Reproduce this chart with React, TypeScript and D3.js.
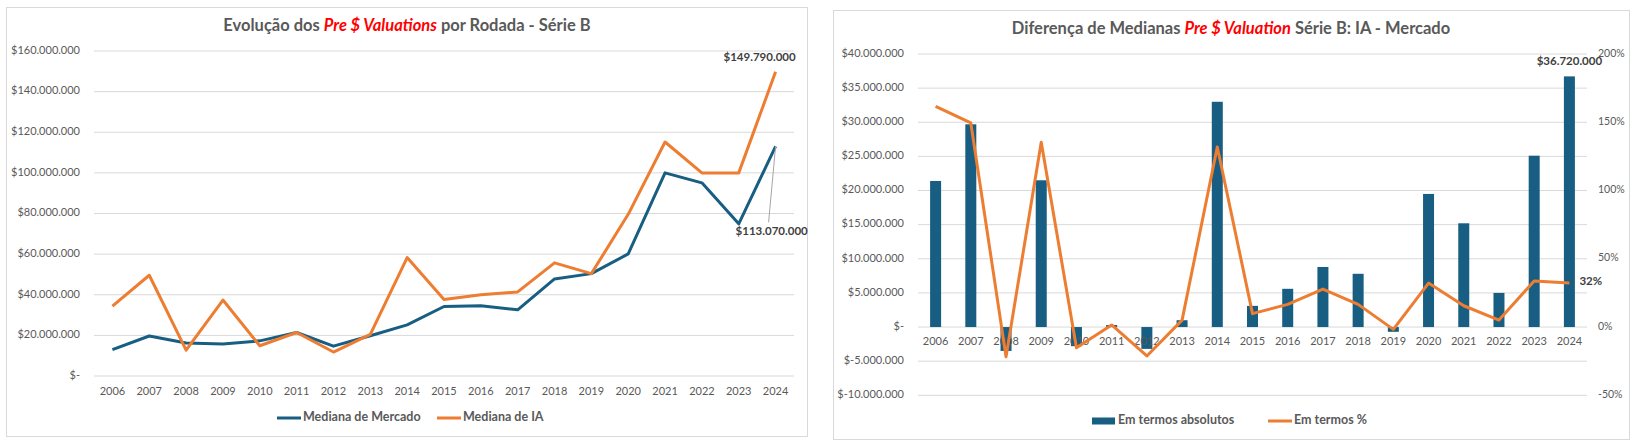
import React, { useEffect, useRef } from 'react';
import * as d3 from 'd3';

// Rounds per year, values in US$ millions
const years = ['2006', '2007', '2008', '2009', '2010', '2011', '2012', '2013', '2014', '2015', '2016', '2017', '2018', '2019', '2020', '2021', '2022', '2023', '2024'];
const marketMedian = [13, 19.7, 16.2, 15.7, 17.3, 21.4, 14.7, 19.8, 25.2, 34.2, 34.6, 32.6, 47.8, 50.4, 60.1, 100, 95.1, 74.9, 113.07];
const aiMedian = [34.4, 49.6, 12.7, 37.4, 14.9, 21.4, 11.8, 20.5, 58.3, 37.7, 40, 41.4, 55.7, 50.4, 79.6, 115.2, 100, 100, 149.79];

// Difference IA - Mercado
const diffAbsolute = [21.4, 29.7, -3.5, 21.5, -2.8, 0.3, -3.2, 1.0, 33.0, 3.1, 5.6, 8.8, 7.8, -0.7, 19.5, 15.2, 5.0, 25.1, 36.72];
const diffPercent = [161.7, 149.5, -21.7, 135.3, -15.1, 1.5, -21.2, 5.1, 131.9, 9.8, 16.6, 27.8, 16.6, -1.7, 32.2, 15.6, 5.1, 33.7, 32.3];

const leftTicks = [0, 20, 40, 60, 80, 100, 120, 140, 160];
const rightMoneyTicks = [-10, -5, 0, 5, 10, 15, 20, 25, 30, 35, 40];
const rightPctTicks = [-50, 0, 50, 100, 150, 200];

const WIDTH = 1637;
const HEIGHT = 446;
const FONT = 'Lato, "Open Sans", sans-serif';
const GRAY = '#595959';
const GRID = '#d9d9d9';
const BLUE = '#175e82';
const ORANGE = '#ed7d31';
const RED = '#ff0000';
const TICK_SIZE = '11px';

const money = (m: number) => {
  if (m === 0) return '$-';
  const s = d3.format(',')(Math.round(Math.abs(m) * 1e6)).replace(/,/g, '.');
  return (m < 0 ? '$-' : '$') + s;
};

type G = d3.Selection<SVGGElement, unknown, null, undefined>;

function title(g: G, cx: number, cy: number, before: string, red: string, after: string) {
  const t = g.append('text')
    .attr('x', cx).attr('y', cy)
    .attr('text-anchor', 'middle')
    .attr('dominant-baseline', 'middle')
    .style('font-family', FONT)
    .style('font-size', '16.5px')
    .style('font-weight', 700)
    .style('fill', GRAY);
  t.append('tspan').text(before);
  t.append('tspan').style('fill', RED).style('font-style', 'italic').text(red);
  t.append('tspan').text(after);
}

function legendItem(g: G, x: number, y: number, label: string, color: string, kind: 'line' | 'rect') {
  if (kind === 'line') {
    g.append('line')
      .attr('x1', x).attr('x2', x + 24).attr('y1', y).attr('y2', y)
      .attr('stroke', color).attr('stroke-width', 3);
  } else {
    g.append('rect')
      .attr('x', x).attr('y', y - 3.5).attr('width', 23).attr('height', 7)
      .attr('fill', color);
  }
  g.append('text')
    .attr('x', x + 26).attr('y', y)
    .attr('dominant-baseline', 'middle')
    .style('font-family', FONT)
    .style('font-size', '12.5px')
    .style('font-weight', 700)
    .style('fill', GRAY)
    .text(label);
}

function drawValuations(g: G) {
  g.append('rect')
    .attr('x', 6.5).attr('y', 7.5).attr('width', 801).attr('height', 429)
    .attr('fill', '#fff').attr('stroke', GRID);

  title(g, 407, 27, 'Evolução dos ', 'Pre $ Valuations', ' por Rodada - Série B');

  const x = d3.scaleBand().domain(years).range([94, 794]);
  const cx = (d: string) => (x(d) || 0) + x.bandwidth() / 2;
  const y = d3.scaleLinear().domain([0, 160]).range([376, 51]);

  g.selectAll('.grid-l')
    .data(leftTicks)
    .enter()
    .append('line')
    .attr('x1', 94).attr('x2', 794)
    .attr('y1', d => y(d)).attr('y2', d => y(d))
    .attr('stroke', GRID).attr('stroke-width', 1);

  g.selectAll('.ylab-l')
    .data(leftTicks)
    .enter()
    .append('text')
    .attr('x', 80).attr('y', d => y(d))
    .attr('text-anchor', 'end')
    .attr('dominant-baseline', 'middle')
    .style('font-family', FONT).style('font-size', TICK_SIZE).style('fill', GRAY)
    .text(d => money(d));

  g.selectAll('.xlab-l')
    .data(years)
    .enter()
    .append('text')
    .attr('x', d => cx(d)).attr('y', 392)
    .attr('text-anchor', 'middle')
    .attr('dominant-baseline', 'middle')
    .style('font-family', FONT).style('font-size', TICK_SIZE).style('fill', GRAY)
    .text(d => d);

  const line = d3.line<number>()
    .x((_, i) => cx(years[i]))
    .y(d => y(d));

  g.append('path').datum(marketMedian)
    .attr('d', line).attr('fill', 'none')
    .attr('stroke', BLUE).attr('stroke-width', 3).attr('stroke-linejoin', 'round');
  g.append('path').datum(aiMedian)
    .attr('d', line).attr('fill', 'none')
    .attr('stroke', ORANGE).attr('stroke-width', 3).attr('stroke-linejoin', 'round');

  // labels on the last round
  const last = years.length - 1;
  const lx = cx(years[last]);
  g.append('text')
    .attr('x', lx - 16).attr('y', y(aiMedian[last]) - 14)
    .attr('text-anchor', 'middle').attr('dominant-baseline', 'middle')
    .style('font-family', FONT).style('font-size', '11.5px').style('font-weight', 700).style('fill', '#404040')
    .text(money(aiMedian[last]));

  const my = y(marketMedian[last]);
  g.append('line')
    .attr('x1', lx).attr('y1', my)
    .attr('x2', lx - 7).attr('y2', my + 76)
    .attr('stroke', '#a6a6a6').attr('stroke-width', 1);
  g.append('text')
    .attr('x', lx - 40).attr('y', my + 86)
    .attr('dominant-baseline', 'middle')
    .style('font-family', FONT).style('font-size', '11.5px').style('font-weight', 700).style('fill', '#404040')
    .text(money(marketMedian[last]));

  legendItem(g, 277, 418, 'Mediana de Mercado', BLUE, 'line');
  legendItem(g, 437, 418, 'Mediana de IA', ORANGE, 'line');
}

function drawDifference(g: G) {
  g.append('rect')
    .attr('x', 833.5).attr('y', 10.5).attr('width', 796).attr('height', 429)
    .attr('fill', '#fff').attr('stroke', GRID);

  title(g, 1231, 30, 'Diferença de Medianas ', 'Pre $ Valuation', ' Série B: IA - Mercado');

  const x = d3.scaleBand().domain(years).range([918, 1587]);
  const cx = (d: string) => (x(d) || 0) + x.bandwidth() / 2;
  const yL = d3.scaleLinear().domain([-10, 40]).range([395.3, 54]);
  const yR = d3.scaleLinear().domain([-50, 200]).range([395.3, 54]);

  g.selectAll('.grid-r')
    .data(rightMoneyTicks)
    .enter()
    .append('line')
    .attr('x1', 918).attr('x2', 1587)
    .attr('y1', d => yL(d)).attr('y2', d => yL(d))
    .attr('stroke', GRID).attr('stroke-width', 1);

  g.selectAll('.ylab-r')
    .data(rightMoneyTicks)
    .enter()
    .append('text')
    .attr('x', 904).attr('y', d => yL(d))
    .attr('text-anchor', 'end')
    .attr('dominant-baseline', 'middle')
    .style('font-family', FONT).style('font-size', TICK_SIZE).style('fill', GRAY)
    .text(d => money(d));

  g.selectAll('.pctlab')
    .data(rightPctTicks)
    .enter()
    .append('text')
    .attr('x', 1598).attr('y', d => yR(d))
    .attr('dominant-baseline', 'middle')
    .style('font-family', FONT).style('font-size', '10.5px').style('fill', GRAY)
    .text(d => `${d}%`);

  const barW = 11;
  g.selectAll('.bar')
    .data(diffAbsolute)
    .enter()
    .append('rect')
    .attr('x', (_, i) => cx(years[i]) - barW / 2)
    .attr('width', barW)
    .attr('y', d => yL(Math.max(0, d)))
    .attr('height', d => Math.abs(yL(d) - yL(0)))
    .attr('fill', BLUE);

  g.selectAll('.xlab-r')
    .data(years)
    .enter()
    .append('text')
    .attr('x', d => cx(d)).attr('y', 342)
    .attr('text-anchor', 'middle')
    .attr('dominant-baseline', 'middle')
    .style('font-family', FONT).style('font-size', TICK_SIZE).style('fill', GRAY)
    .text(d => d);

  const line = d3.line<number>()
    .x((_, i) => cx(years[i]))
    .y(d => yR(d));
  g.append('path').datum(diffPercent)
    .attr('d', line).attr('fill', 'none')
    .attr('stroke', ORANGE).attr('stroke-width', 3).attr('stroke-linejoin', 'round');

  const last = years.length - 1;
  const lx = cx(years[last]);
  g.append('text')
    .attr('x', lx).attr('y', yL(diffAbsolute[last]) - 14)
    .attr('text-anchor', 'middle').attr('dominant-baseline', 'middle')
    .style('font-family', FONT).style('font-size', '11.5px').style('font-weight', 700).style('fill', '#404040')
    .text(money(diffAbsolute[last]));
  g.append('text')
    .attr('x', lx + 10).attr('y', yR(diffPercent[last]) - 1)
    .attr('dominant-baseline', 'middle')
    .style('font-family', FONT).style('font-size', '11.5px').style('font-weight', 700).style('fill', '#404040')
    .text(`${Math.round(diffPercent[last])}%`);

  legendItem(g, 1092, 421, 'Em termos absolutos', BLUE, 'rect');
  legendItem(g, 1268, 421, 'Em termos %', ORANGE, 'line');
}

export default function App() {
  const svgRef = useRef<SVGSVGElement>(null);

  useEffect(() => {
    if (!svgRef.current) return;
    const svg = d3.select(svgRef.current);
    svg.selectAll('*').remove();
    drawValuations(svg.append('g'));
    drawDifference(svg.append('g'));
  }, []);

  return (
    <svg
      ref={svgRef}
      width={WIDTH}
      height={HEIGHT}
      style={{ position: 'absolute', left: 0, top: 0, background: '#fff' }}
    />
  );
}
